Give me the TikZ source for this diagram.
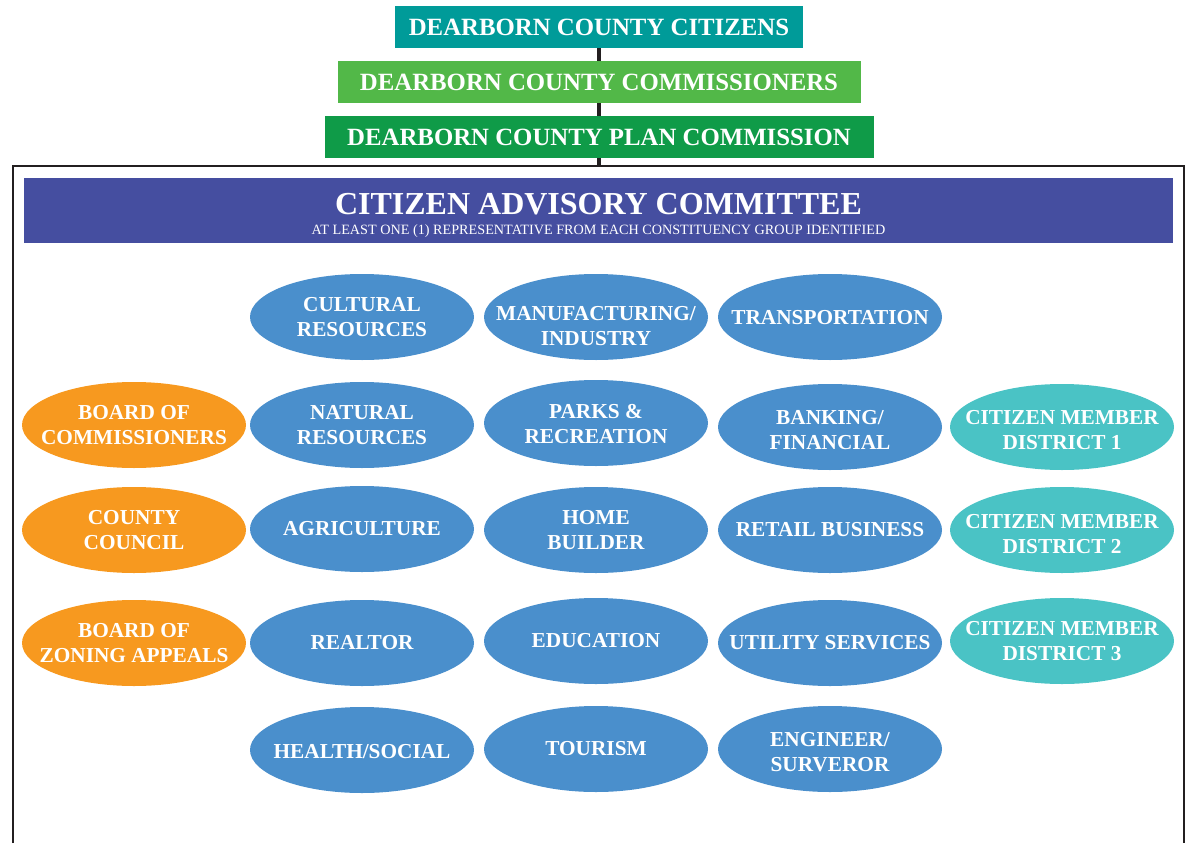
\documentclass[tikz,border=0pt]{standalone}
\usepackage{fontspec}
\setmainfont{Liberation Serif}
\usepackage{tikz}
\usetikzlibrary{shapes.geometric}
\definecolor{citiz}{RGB}{0,155,153}
\definecolor{commis}{RGB}{82,184,72}
\definecolor{plancom}{RGB}{15,155,72}
\definecolor{banner}{RGB}{69,78,160}
\definecolor{grpblue}{RGB}{74,143,204}
\definecolor{grporange}{RGB}{247,153,31}
\definecolor{grpteal}{RGB}{74,195,197}
\definecolor{frameblk}{RGB}{35,31,32}
\tikzset{
    head/.style={text=white, inner sep=0pt, minimum height=42pt, font=\fontsize{24.8}{28}\selectfont\bfseries}, % header boxes
    grp/.style={ellipse, inner sep=0pt, minimum width=224pt, minimum height=86pt}, % constituency ellipses
    grp text/.style={text=white, align=center, inner sep=0pt, font=\fontsize{21.3}{25.5}\selectfont\bfseries} % text on the ellipses
}
\begin{document}
\begin{tikzpicture}[x=1pt, y=-1pt]
    \useasboundingbox (0,0) rectangle (1190,843);

    % frame, open at the bottom
    \coordinate (fbl) at (13,843); \coordinate (ftl) at (13,166);
    \coordinate (ftr) at (1184,166); \coordinate (fbr) at (1184,843);
    \coordinate (ftop) at (599,166);
    \draw[frameblk, line width=2.5pt] (fbl) -- (ftl) -- (ftr) -- (fbr);

    \node[head, fill=citiz, minimum width=408pt] (cit) at (599,27) {DEARBORN COUNTY CITIZENS};
    \node[head, fill=commis, minimum width=523pt] (com) at (599,82) {DEARBORN COUNTY COMMISSIONERS};
    \node[head, fill=plancom, minimum width=549pt] (plan) at (599,137) {DEARBORN COUNTY PLAN COMMISSION};
    \draw[frameblk, line width=4pt] (cit.south) -- (com.north) (com.south) -- (plan.north) (plan.south) -- (ftop);

    \node[fill=banner, minimum width=1149pt, minimum height=65pt, inner sep=0pt] (cac) at (598.5,210.5) {};
    \node[text=white, inner sep=0pt, font=\fontsize{32}{36}\selectfont\bfseries] (cactitle) at (598.5,204) {CITIZEN ADVISORY COMMITTEE};
    \node[text=white, inner sep=0pt, font=\fontsize{14.2}{16}\selectfont] (cacsub) at (598.5,231) {AT LEAST ONE (1) REPRESENTATIVE FROM EACH CONSTITUENCY GROUP IDENTIFIED};

    % name / x / y / colour / text shift / text
    \foreach \n/\x/\y/\c/\s/\t in {
        cult/362/317/grpblue/0/{CULTURAL\\RESOURCES},
        manu/596/317/grpblue/9/{MANUFACTURING/\\INDUSTRY},
        trans/830/317/grpblue/1/{TRANSPORTATION},
        boc/134/425/grporange/0/{BOARD OF\\COMMISSIONERS},
        nat/362/425/grpblue/0/{NATURAL\\RESOURCES},
        parks/596/423/grpblue/1/{PARKS \&\\RECREATION},
        bank/830/427/grpblue/3/{BANKING/\\FINANCIAL},
        cmone/1062/427/grpteal/3/{CITIZEN MEMBER\\DISTRICT 1},
        cc/134/530/grporange/0/{COUNTY\\COUNCIL},
        agri/362/529/grpblue/0/{AGRICULTURE},
        home/596/530/grpblue/0/{HOME\\BUILDER},
        retail/830/530/grpblue/0/{RETAIL BUSINESS},
        cmtwo/1062/530/grpteal/4/{CITIZEN MEMBER\\DISTRICT 2},
        bza/134/643/grporange/0/{BOARD OF\\ZONING APPEALS},
        realtor/362/643/grpblue/0/{REALTOR},
        edu/596/641/grpblue/0/{EDUCATION},
        util/830/643/grpblue/0/{UTILITY SERVICES},
        cmthree/1062/641/grpteal/0/{CITIZEN MEMBER\\DISTRICT 3},
        health/362/750/grpblue/2/{HEALTH/SOCIAL},
        tour/596/749/grpblue/0/{TOURISM},
        eng/830/749/grpblue/3/{ENGINEER/\\SURVEROR}}
    {
        \node[grp, fill=\c] (\n) at (\x,\y) {};
        \node[grp text, yshift=-\s pt] (\n-t) at (\n) {\t};
    }
\end{tikzpicture}
\end{document}
